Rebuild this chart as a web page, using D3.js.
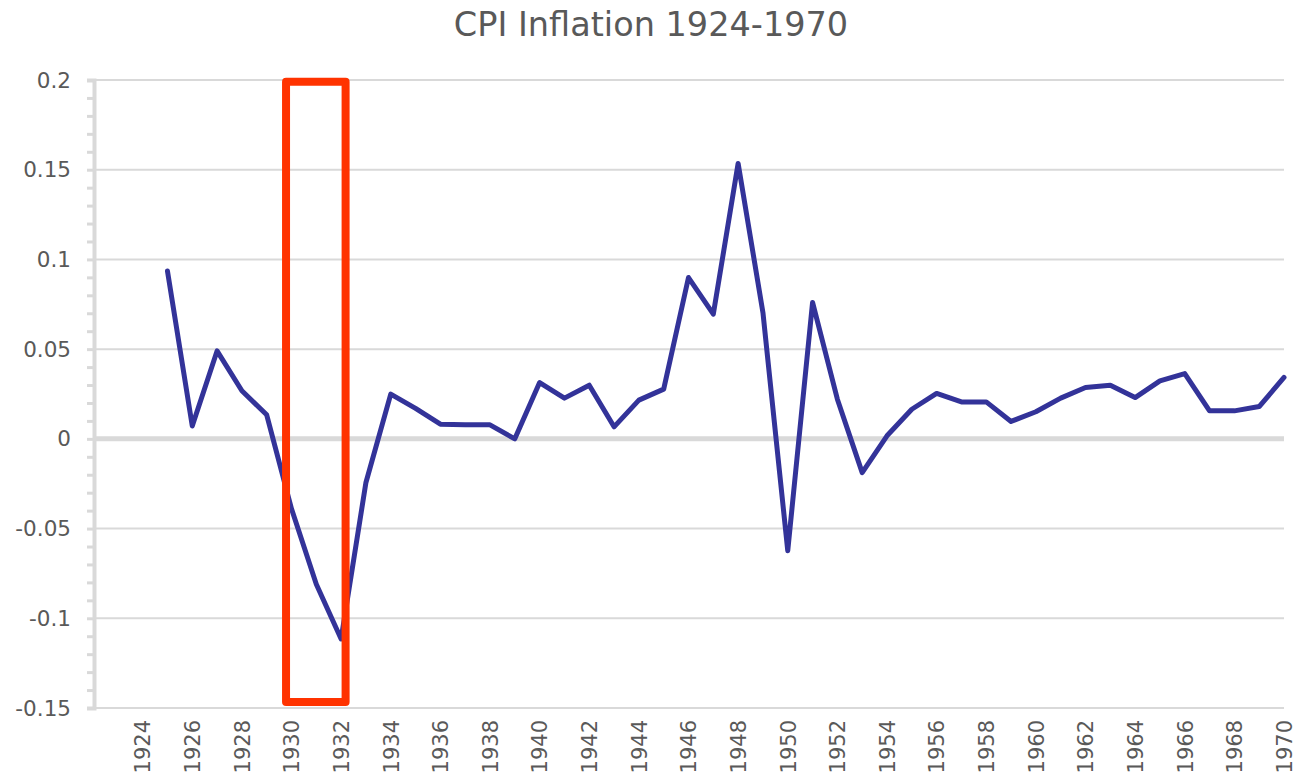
<!DOCTYPE html>
<html>
<head>
<meta charset="utf-8">
<script src="https://cdn.jsdelivr.net/npm/d3@7/dist/d3.min.js"></script>
<style>
  html, body { margin: 0; padding: 0; background: #ffffff; }
  svg { display: block; }
</style>
</head>
<body>
<svg id="chart" width="1298" height="777"></svg>
<script>
// ---- data ----
const title = "CPI Inflation 1924-1970";
const years = [1925,1926,1927,1928,1929,1930,1931,1932,1933,1934,1935,1936,1937,1938,1939,1940,1941,1942,1943,1944,1945,1946,1947,1948,1949,1950,1951,1952,1953,1954,1955,1956,1957,1958,1959,1960,1961,1962,1963,1964,1965,1966,1967,1968,1969,1970];
const inflation = [0.0936,0.0072,0.0490,0.0268,0.0134,-0.0390,-0.0810,-0.1115,-0.0243,0.0249,0.0170,0.0082,0.0078,0.0078,0.0000,0.0314,0.0227,0.0299,0.0067,0.0216,0.0277,0.0899,0.0695,0.1535,0.0704,-0.0624,0.0760,0.0221,-0.0188,0.0017,0.0165,0.0253,0.0206,0.0206,0.0097,0.0151,0.0227,0.0286,0.0299,0.0230,0.0323,0.0364,0.0156,0.0156,0.0180,0.0342];
const xTickLabels = [1924,1926,1928,1930,1932,1934,1936,1938,1940,1942,1944,1946,1948,1950,1952,1954,1956,1958,1960,1962,1964,1966,1968,1970];
const yTickValues = [0.2,0.15,0.1,0.05,0,-0.05,-0.1,-0.15];
const yTickLabels = ["0.2","0.15","0.1","0.05","0","-0.05","-0.1","-0.15"];
const yMinorTicks = d3.range(-15, 21).map(i => i / 100);
const highlightYears = [1929.78, 1932.18];
const highlightValues = [0.199, -0.1466];

// ---- layout ----
const svg = d3.select("#chart");
const x = d3.scaleLinear().domain([1922, 1970]).range([93, 1284]);
const y = d3.scaleLinear().domain([-0.15, 0.2]).range([708, 80]);
const grey = "#d9d9d9";
const textColor = "#595959";
const font = "'DejaVu Sans', Verdana, sans-serif";

// title
svg.append("text")
  .attr("x", 651).attr("y", 36)
  .attr("text-anchor", "middle")
  .attr("font-family", font)
  .attr("font-size", 33.5)
  .attr("fill", textColor)
  .text(title);

// gridlines
svg.append("g").selectAll("line")
  .data(yTickValues)
  .join("line")
  .attr("x1", x.range()[0]).attr("x2", x.range()[1])
  .attr("y1", d => y(d)).attr("y2", d => y(d))
  .attr("stroke", grey)
  .attr("stroke-width", d => d === 0 ? 5 : 2);

// y axis (minor ticks every 0.01)
const yAxis = d3.axisLeft(y)
  .tickValues(yMinorTicks)
  .tickSize(7)
  .tickFormat("");
const gY = svg.append("g").attr("transform", "translate(94,0)").call(yAxis);
gY.select(".domain").attr("stroke", grey).attr("stroke-width", 4);
gY.selectAll(".tick line").attr("stroke", grey).attr("stroke-width", 3);

// y labels
svg.append("g").selectAll("text")
  .data(yTickValues)
  .join("text")
  .attr("x", 71)
  .attr("y", d => y(d))
  .attr("dy", "0.35em")
  .attr("text-anchor", "end")
  .attr("font-family", font)
  .attr("font-size", 21.5)
  .attr("fill", textColor)
  .text((d, i) => yTickLabels[i]);

// x labels
const xAxis = d3.axisBottom(x).tickValues(xTickLabels).tickSize(0).tickFormat(d3.format("d"));
const gX = svg.append("g").attr("transform", "translate(0,708)").call(xAxis);
gX.select(".domain").remove();
gX.selectAll(".tick text")
  .attr("font-family", font)
  .attr("font-size", 21)
  .attr("fill", textColor)
  .attr("transform", "rotate(-90)")
  .attr("x", -12)
  .attr("y", 0)
  .attr("dy", "0.35em")
  .attr("text-anchor", "end");

// line
const line = d3.line()
  .x((d, i) => x(years[i]))
  .y(d => y(d));
svg.append("path")
  .datum(inflation)
  .attr("d", line)
  .attr("fill", "none")
  .attr("stroke", "#333399")
  .attr("stroke-width", 5)
  .attr("stroke-linejoin", "round")
  .attr("stroke-linecap", "round");

// highlight box
svg.append("rect")
  .attr("x", x(highlightYears[0]))
  .attr("y", y(highlightValues[0]))
  .attr("width", x(highlightYears[1]) - x(highlightYears[0]))
  .attr("height", y(highlightValues[1]) - y(highlightValues[0]))
  .attr("fill", "none")
  .attr("stroke", "#ff3300")
  .attr("stroke-width", 8)
  .attr("stroke-linejoin", "round");
</script>
</body>
</html>
